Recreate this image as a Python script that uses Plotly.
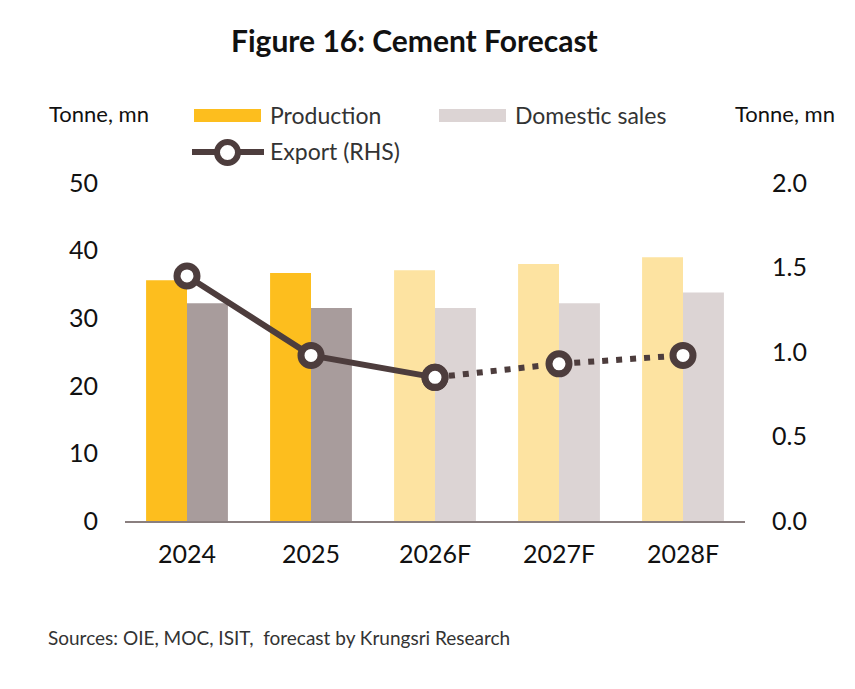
import plotly.graph_objects as go

categories = ["2024", "2025", "2026F", "2027F", "2028F"]
production = [35.6, 36.7, 37.1, 38.0, 39.0]
domestic_sales = [32.2, 31.5, 31.5, 32.2, 33.8]
export_rhs = [1.45, 0.98, 0.85, 0.93, 0.98]
n_actual = 2  # 2024, 2025 are actual; rest forecast

FONT = "Lato, 'Open Sans', sans-serif"
PROD = "#FDBE1E"
PROD_F = "#FDE3A1"
DOM = "#A89C9C"
DOM_F = "#DCD4D4"
LINE = "#4D3D3D"

prod_colors = [PROD if i < n_actual else PROD_F for i in range(len(categories))]
dom_colors = [DOM if i < n_actual else DOM_F for i in range(len(categories))]

fig = go.Figure()
fig.add_trace(go.Bar(x=categories, y=production, name="Production",
                     marker=dict(color=prod_colors, line=dict(width=0))))
fig.add_trace(go.Bar(x=categories, y=domestic_sales, name="Domestic sales",
                     marker=dict(color=dom_colors, line=dict(width=0))))
marker = dict(size=20, color="white", line=dict(color=LINE, width=7))
fig.add_trace(go.Scatter(x=categories[:3], y=export_rhs[:3], yaxis="y2",
                         mode="lines+markers", line=dict(color=LINE, width=6),
                         marker=marker, name="Export (RHS)"))
fig.add_trace(go.Scatter(x=categories[2:], y=export_rhs[2:], yaxis="y2",
                         mode="lines+markers",
                         line=dict(color=LINE, width=6, dash="6px,8px"),
                         marker=marker, name="Export (RHS) F"))

TICK = dict(size=25, color="#111111")
fig.update_layout(
    width=855, height=689,
    margin=dict(l=125, r=110, t=183, b=168),
    paper_bgcolor="white", plot_bgcolor="white",
    showlegend=False,
    barmode="group", bargap=0.34, bargroupgap=0,
    font=dict(family=FONT, color="#222222"),
    xaxis=dict(showline=True, linecolor="#8A7F7F", linewidth=2,
               showgrid=False, ticks="", tickfont=TICK,
               ticklabelstandoff=10),
    yaxis=dict(range=[0, 50], dtick=10, showgrid=False, zeroline=False,
               showline=False, ticks="", tickfont=TICK,
               ticklabelstandoff=26),
    yaxis2=dict(range=[0, 2.0], dtick=0.5, tickformat=".1f", overlaying="y",
                side="right", showgrid=False, zeroline=False, showline=False,
                ticks="", tickfont=TICK,
                ticklabelstandoff=26),
)

H = 689; T = 183; B = 168
ph = H - T - B
W = 855; L = 125; R = 110
pw = W - L - R
def px(x):
    return (x - L) / pw
def py(y):
    return (H - B - y) / ph

annotations = [
    dict(text="<b>Figure 16: Cement Forecast</b>", x=px(414), y=py(40),
         xref="paper", yref="paper", showarrow=False, xanchor="center",
         yanchor="middle", font=dict(size=30, color="#111111")),
    dict(text="Tonne, mn", x=px(47), y=py(114), xref="paper", yref="paper",
         showarrow=False, xanchor="left", yanchor="middle",
         font=dict(size=22, color="#111111")),
    dict(text="Tonne, mn", x=px(837), y=py(114), xref="paper", yref="paper",
         showarrow=False, xanchor="right", yanchor="middle",
         font=dict(size=22, color="#111111")),
    dict(text="Production", x=px(268), y=py(115), xref="paper", yref="paper",
         showarrow=False, xanchor="left", yanchor="middle",
         font=dict(size=23, color="#333333")),
    dict(text="Domestic sales", x=px(513), y=py(115), xref="paper", yref="paper",
         showarrow=False, xanchor="left", yanchor="middle",
         font=dict(size=23, color="#333333")),
    dict(text="Export (RHS)", x=px(268), y=py(151), xref="paper", yref="paper",
         showarrow=False, xanchor="left", yanchor="middle",
         font=dict(size=23, color="#333333")),
    dict(text="Sources: OIE, MOC, ISIT,  forecast by Krungsri Research",
         x=px(46), y=py(637), xref="paper", yref="paper", showarrow=False,
         xanchor="left", yanchor="middle", font=dict(size=19, color="#333333")),
]
shapes = [
    dict(type="rect", xref="paper", yref="paper", x0=px(194), x1=px(261),
         y0=py(109), y1=py(122), fillcolor=PROD, line=dict(width=0)),
    dict(type="rect", xref="paper", yref="paper", x0=px(439), x1=px(506),
         y0=py(109), y1=py(122), fillcolor=DOM_F, line=dict(width=0)),
    dict(type="line", xref="paper", yref="paper", x0=px(192), x1=px(264),
         y0=py(152), y1=py(152), line=dict(color=LINE, width=6)),
    dict(type="circle", xref="paper", yref="paper", x0=px(217), x1=px(238),
         y0=py(142), y1=py(163), fillcolor="white", line=dict(color=LINE, width=6)),
]
fig.update_layout(annotations=annotations, shapes=shapes)

fig.write_html("out.html")
